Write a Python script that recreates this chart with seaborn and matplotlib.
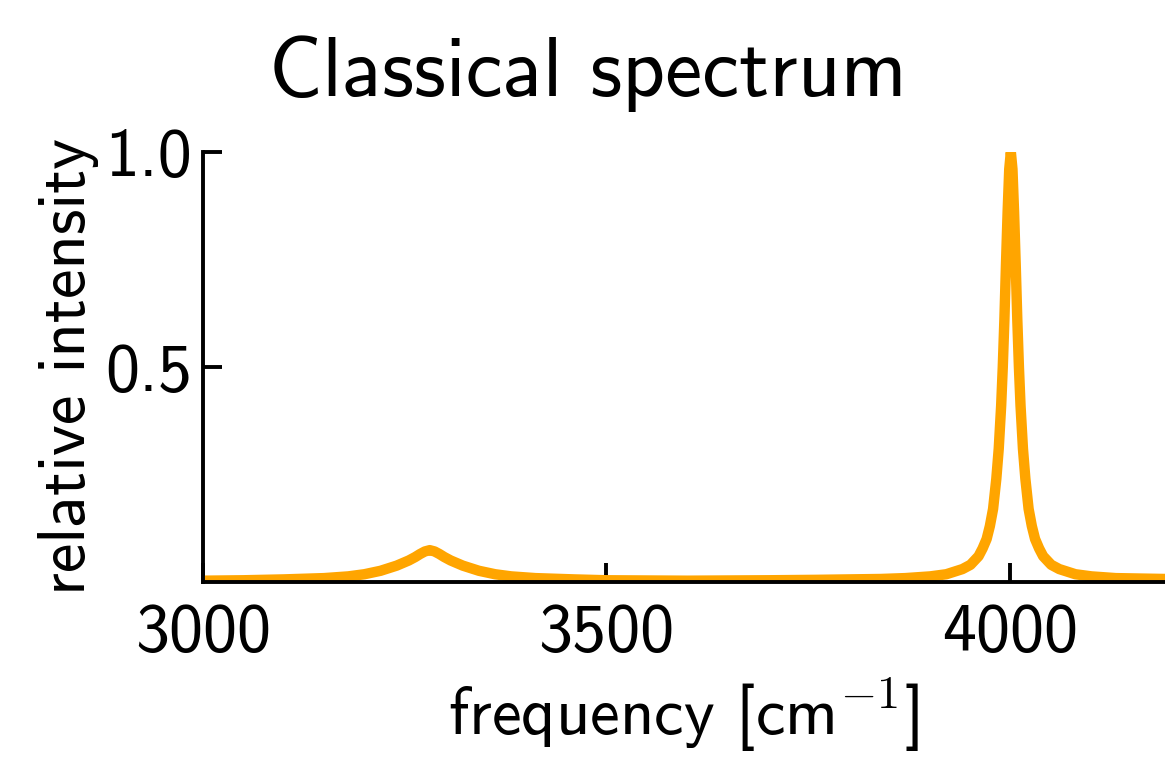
import numpy as np
import pandas as pd
import matplotlib
matplotlib.use("Agg")
import matplotlib.pyplot as plt
import seaborn as sns

# Values (frequency in cm^-1, relative intensity)
frequency = [3000, 3050, 3100, 3150, 3180, 3200, 3220, 3240, 3255, 3263, 3269, 3275,
             3281, 3287, 3293, 3299, 3307, 3322, 3342, 3362, 3382, 3412, 3460, 3500,
             3600, 3700, 3760, 3800, 3840, 3870, 3901, 3921, 3941, 3951, 3961, 3966,
             3971, 3975, 3979, 3983, 3986, 3989, 3991, 3993, 3995, 3997, 3999, 4001,
             4003, 4005, 4007, 4009, 4011, 4013, 4016, 4019, 4023, 4027, 4031, 4036,
             4041, 4051, 4061, 4081, 4101, 4131, 4161, 4192]
intensity = [0.003, 0.004, 0.006, 0.009, 0.013, 0.018, 0.026, 0.038, 0.050, 0.058, 0.065, 0.071,
             0.074, 0.071, 0.065, 0.058, 0.050, 0.038, 0.026, 0.018, 0.013, 0.009, 0.006, 0.004,
             0.003, 0.004, 0.005, 0.006, 0.007, 0.009, 0.013, 0.018, 0.030, 0.040, 0.060, 0.078,
             0.10, 0.13, 0.17, 0.24, 0.31, 0.41, 0.50, 0.61, 0.74, 0.86, 0.96, 1.0,
             0.96, 0.86, 0.74, 0.61, 0.50, 0.41, 0.31, 0.24, 0.17, 0.13, 0.10, 0.078,
             0.060, 0.040, 0.030, 0.018, 0.013, 0.009, 0.008, 0.007]

xticks = [3000, 3500, 4000]
yticks = [0.5, 1.0]

df = pd.DataFrame({"frequency": frequency, "intensity": intensity})

sns.set_theme(style="ticks")
plt.rcParams["font.family"] = ["cmss10", "DejaVu Sans"]
plt.rcParams["mathtext.fontset"] = "cm"
plt.rcParams["axes.unicode_minus"] = False
plt.rcParams["text.color"] = "black"
plt.rcParams["axes.labelcolor"] = "black"

fig = plt.figure(figsize=(11.65, 7.57), dpi=100)
ax = fig.add_axes([0.1742, 0.2312, 0.8258, 0.568])

sns.lineplot(data=df, x="frequency", y="intensity", color="orange",
             linewidth=7.5, ax=ax, clip_on=True)

ax.set_xlim(3000, 4192)
ax.set_ylim(0, 1.0)
ax.set_xticks(xticks)
ax.set_xticklabels([str(t) for t in xticks])
ax.set_yticks(yticks)
ax.set_yticklabels([f"{t:.1f}" for t in yticks])

sns.despine(ax=ax)
for s in ["left", "bottom"]:
    ax.spines[s].set_linewidth(2.8)
    ax.spines[s].set_color("black")

ax.tick_params(axis="both", direction="in", length=14, width=2.8,
               labelsize=49, colors="black")
ax.tick_params(axis="x", pad=15)
ax.tick_params(axis="y", pad=8)

ax.set_xlabel(r"frequency [cm$^{-\mathsf{1}}$]", fontsize=48, labelpad=9, color="black")
ax.set_ylabel("relative intensity", fontsize=48, labelpad=4, color="black")
ax.set_title("Classical spectrum", fontsize=60, x=0.40, pad=40, color="black")

fig.savefig("out.png", dpi=100)
